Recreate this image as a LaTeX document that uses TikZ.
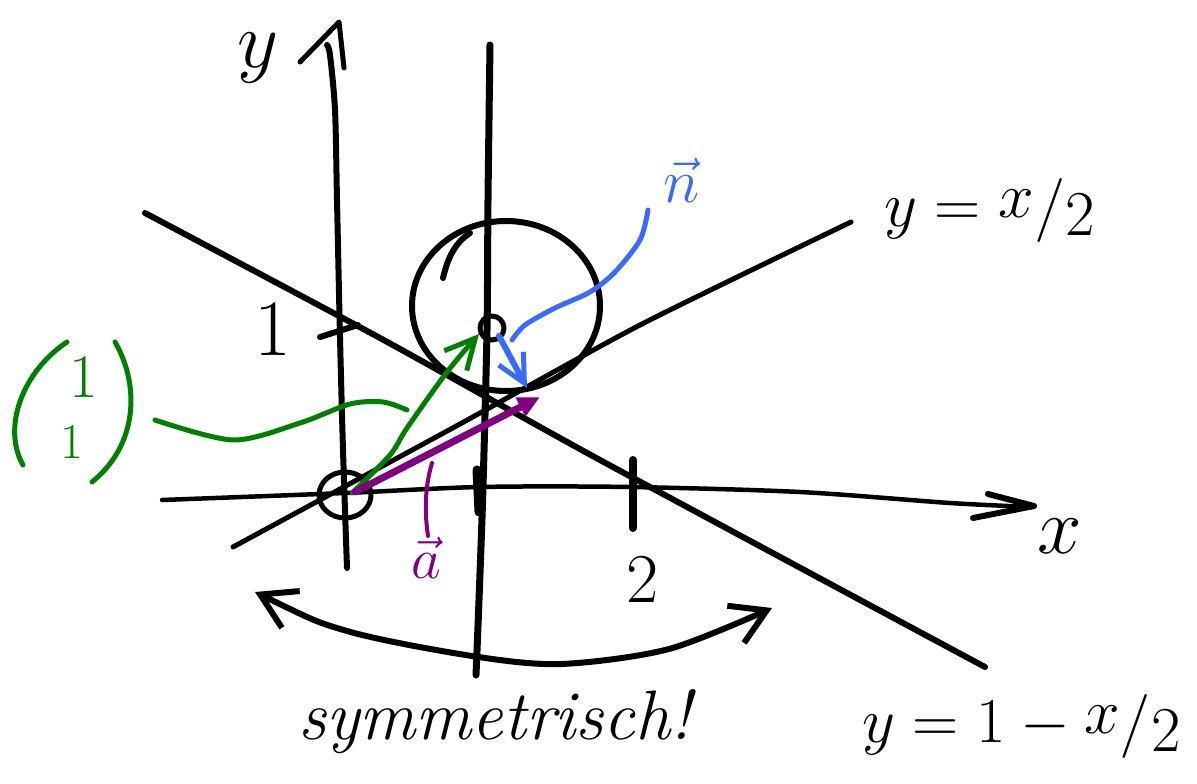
\RequirePackage{fix-cm}
\documentclass[tikz,border=0pt]{standalone}
\usetikzlibrary{arrows.meta}
\definecolor{grn}{RGB}{0,128,0}
\definecolor{blu}{RGB}{58,107,255}
\definecolor{pur}{RGB}{128,0,128}
\newcommand{\slfr}[2]{\raisebox{0.3ex}{$#1$}/\raisebox{-0.35ex}{$#2$}}
\begin{document}
\begin{tikzpicture}[x=1pt,y=-1pt,line cap=round,line join=round,
  ink/.style={black,line width=#1},
  lab/.style={inner sep=0pt,font=\fontsize{#1}{#1}\selectfont},
  barb/.style={-{Straight Barb[length=#1,width=#1,line width=5pt]}},
  dbarb/.style={{Straight Barb[length=#1,width=1.2*#1]}-{Straight Barb[length=#1,width=1.2*#1]}}]
\useasboundingbox (0,0) rectangle (1197,784);

% key points
\coordinate (O) at (345,495);
\coordinate (C) at (492,328);
\coordinate (Ntip) at (527,388);
\coordinate (Nbase) at (499,336);
\coordinate (Atip) at (540,397);
\coordinate (Gtip) at (479,334);

% y-axis with arrow
\draw[ink=6pt] plot[smooth] coordinates {(347,568) (343,450) (340,337) (337,200) (335,110) (330,55) (327,45)};
\draw[ink=5pt] (300,62) -- (339,22) -- (344,68);
\node[lab=80pt] (ylab) at (258,58) {$y$};

% second vertical line
\draw[ink=7pt] plot[smooth] coordinates {(490,45) (488,200) (487,330) (483,487) (479,600) (476,675)};
\draw[ink=9pt] (477,470) -- (479,512);

% x-axis with arrow
\draw[ink=4.5pt] plot[smooth] coordinates {(162,500) (345,493) (480,487) (630,487) (800,492) (950,503) (1032,507)};
\draw[ink=6pt] (988,494) -- (1034,506) -- (973,518);
\node[lab=80pt] (xlab) at (1060,536) {$x$};

% line y = x/2
\draw[ink=5pt] plot[smooth,tension=0.4] coordinates {(233,547) (460,424) (640,325) (851,222)};
\node[lab=64pt,anchor=west] (l1lab) at (884,210) {$y = \slfr{x}{2}$};

% line y = 1 - x/2
\draw[ink=6pt] plot[smooth,tension=0.4] coordinates {(145,213) (380,338) (600,460) (985,667)};
\node[lab=64pt,anchor=west] (l2lab) at (862,726) {$y = 1 - \slfr{x}{2}$};

% ticks and tick labels
\draw[ink=6pt] (320,337) -- (358,325);
\node[lab=80pt] (one) at (273,330) {$1$};
\draw[ink=8pt] (633,460) -- (633,528);
\node[lab=70pt] (two) at (643,580) {$2$};

% circle
\draw[ink=6pt] (506,306) ellipse [x radius=94, y radius=85];
\draw[ink=6pt] (443,278) .. controls (448,257) and (455,243) .. (470,233);
\draw[ink=5pt] (C) circle [radius=12];
\draw[ink=5pt] (O) ellipse [x radius=26, y radius=23];

% green vector and label
\draw[grn,line width=5pt,barb=30pt] plot[smooth] coordinates {(352,493) (390,455) (407,428) (447,372) (Gtip)};
\draw[grn,line width=5pt] (67,342) .. controls (22,372) and (2,428) .. (23,465);
\draw[grn,line width=5pt] (115,342) .. controls (140,385) and (138,445) .. (92,482);
\node[lab=62pt,text=grn] (g1) at (84,378) {$1$};
\node[lab=50pt,text=grn] (g2) at (72,442) {$1$};
\draw[grn,line width=5pt] plot[smooth] coordinates {(155,420) (233,440) (300,423) (350,404) (383,402) (407,410)};

% purple vector and label
\draw[pur,line width=7pt,-{Triangle[length=22pt,width=20pt]}] (355,492) -- (Atip);
\draw[pur,line width=4pt] (432,463) .. controls (424,490) and (425,515) .. (428,536);
\node[lab=58pt,text=pur] (alab) at (426,558) {$\vec a$};

% blue normal vector and label
\draw[blu,line width=6pt,barb=28pt] (Nbase) -- (Ntip);
\draw[blu,line width=5pt] plot[smooth] coordinates {(648,210) (640,240) (615,272) (590,292) (555,308) (525,325) (512,340)};
\node[lab=62pt,text=blu] (nlab) at (682,180) {$\vec n$};

% symmetry arc
\draw[ink=6pt,dbarb=34pt] plot[smooth] coordinates {(255,592) (347,631) (472,656) (561,664) (669,649) (772,608)};
\node[lab=70pt,font=\fontsize{70pt}{70pt}\selectfont\itshape] (sym) at (495,722) {symmetrisch!};
\end{tikzpicture}
\end{document}
